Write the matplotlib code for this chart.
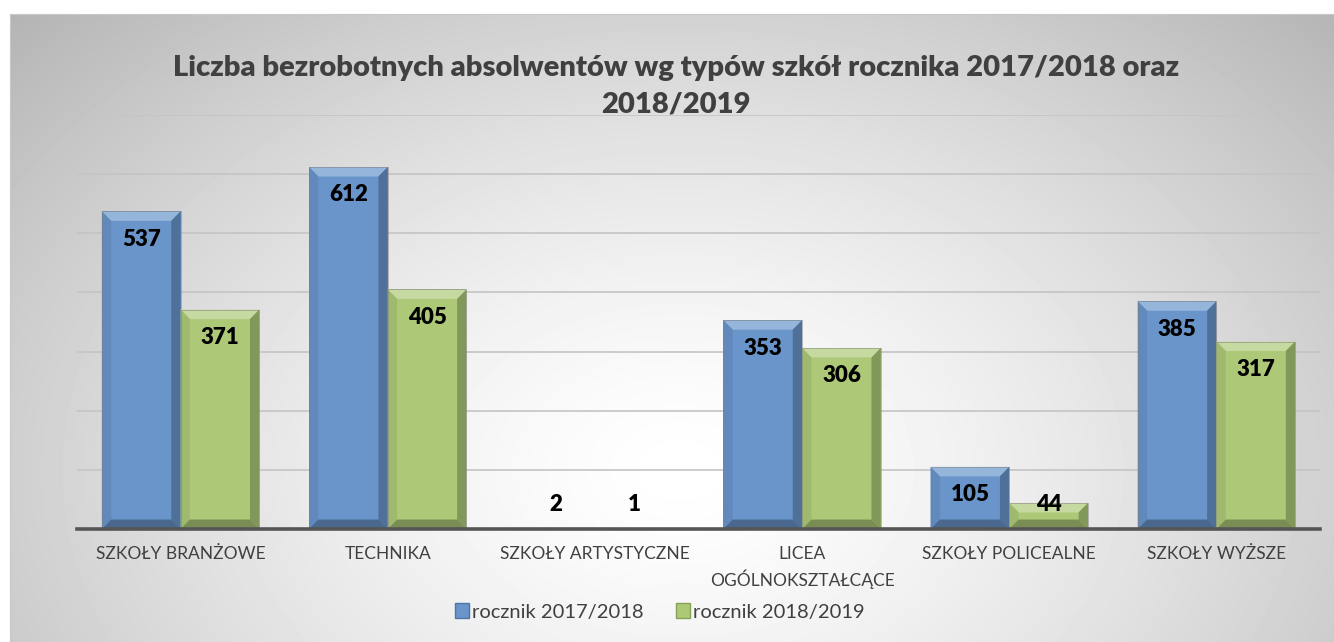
import numpy as np
import matplotlib
matplotlib.use("Agg")
import matplotlib.pyplot as plt
from matplotlib.patches import Polygon, Rectangle
import matplotlib.colors as mcolors

plt.rcParams["font.family"] = ["Lato", "DejaVu Sans"]

# --- data ---
categories = ["SZKOŁY BRANŻOWE", "TECHNIKA", "SZKOŁY ARTYSTYCZNE",
              "LICEA\nOGÓLNOKSZTAŁCĄCE", "SZKOŁY POLICEALNE", "SZKOŁY WYŻSZE"]
rocznik_2017 = [537, 612, 2, 353, 105, 385]
rocznik_2018 = [371, 405, 1, 306, 44, 317]
series_names = ["rocznik 2017/2018", "rocznik 2018/2019"]
title = "Liczba bezrobotnych absolwentów wg typów szkół rocznika 2017/2018 oraz\n2018/2019"

BLUE = "#6995cb"
GREEN = "#adc978"
TXT = "#404040"

W, H = 1334, 642
fig = plt.figure(figsize=(W / 100, H / 100), dpi=100)
fig.patch.set_facecolor("white")

# gradient background of the chart area
bg = fig.add_axes([10 / W, 0, 1 - 10 / W, (H - 14) / H])
yy, xx = np.mgrid[14:H, 10:W]
u = (xx - 680) / 700.0
v = (yy - 470) / 500.0
r = np.sqrt(u ** 2 + v ** 2)
shade = 1 - 0.2 * np.clip(r, 0, 1.35) ** 1.4
bg.imshow(shade, cmap="gray", vmin=0, vmax=1, aspect="auto",
          extent=[0, 1, 0, 1], origin="upper", interpolation="bilinear")
bg.set_xticks([])
bg.set_yticks([])
for side in ["left", "top"]:
    bg.spines[side].set_color("#c8c8c8")
for side in ["right", "bottom"]:
    bg.spines[side].set_visible(False)

ax = fig.add_axes([77 / W, (H - 529) / H, (1320 - 77) / W, (529 - 115) / H])
ax.patch.set_alpha(0)
ax.set_xlim(-0.5, len(categories) - 0.5)
ax.set_ylim(0, 700)
ax.set_yticks(np.arange(100, 701, 100))
ax.yaxis.grid(True, color="#c4c4c4", linewidth=1.2)
ax.set_axisbelow(True)
ax.tick_params(axis="y", length=0, labelleft=False)
ax.tick_params(axis="x", length=0, pad=12, labelsize=12.5, labelcolor=TXT)
for side in ["left", "right", "top"]:
    ax.spines[side].set_visible(False)
ax.spines["bottom"].set_color("#555555")
ax.spines["bottom"].set_linewidth(2.6)
ax.spines["bottom"].set_zorder(5)
ax.set_xticks(range(len(categories)))
ax.set_xticklabels(categories, linespacing=1.45)


def shade_color(c, f):
    rgb = np.array(mcolors.to_rgb(c))
    if f > 1:
        return tuple(rgb + (1 - rgb) * (f - 1))
    return tuple(rgb * f)


def bevel_bar(x0, w, h, color):
    dx = 0.045
    dy = min(16.0, h / 2)
    x1 = x0 + w
    ax.add_patch(Rectangle((x0, 0), w, h, facecolor=color, edgecolor="none", zorder=3))
    # top bevel
    ax.add_patch(Polygon([(x0, h), (x1, h), (x1 - dx, h - dy), (x0 + dx, h - dy)],
                         facecolor=shade_color(color, 1.3), edgecolor="none", zorder=3))
    # right side
    ax.add_patch(Polygon([(x1, h), (x1, 0), (x1 - dx, dy), (x1 - dx, h - dy)],
                         facecolor=shade_color(color, 0.75), edgecolor="none", zorder=3))
    # left side
    ax.add_patch(Polygon([(x0, h), (x0, 0), (x0 + dx, dy), (x0 + dx, h - dy)],
                         facecolor=shade_color(color, 0.92), edgecolor="none", zorder=3))
    # bottom bevel
    ax.add_patch(Polygon([(x0, 0), (x1, 0), (x1 - dx, dy), (x0 + dx, dy)],
                         facecolor=shade_color(color, 0.7), edgecolor="none", zorder=3))
    ax.add_patch(Rectangle((x0, 0), w, h, facecolor="none", edgecolor="#7f7f7f",
                           linewidth=0.6, alpha=0.6, zorder=3))


bw = 0.38
for i, (a, b) in enumerate(zip(rocznik_2017, rocznik_2018)):
    for val, off, col in [(a, -bw, BLUE), (b, 0, GREEN)]:
        bevel_bar(i + off, bw, val, col)
        ax.text(i + off + bw / 2, max(val - 47, 42), str(val), ha="center", va="center",
                fontsize=16, fontweight="heavy", color="black", zorder=6)

fig.text(676 / W, 1 - 86 / H, title, ha="center", va="center", fontsize=21,
         fontweight="heavy", color=TXT, linespacing=1.5)

handles = [Rectangle((0, 0), 1, 1, facecolor=BLUE, edgecolor="#4f76a6"),
           Rectangle((0, 0), 1, 1, facecolor=GREEN, edgecolor="#86a258")]
fig.legend(handles, series_names, loc="center", bbox_to_anchor=(660 / W, 1 - 612 / H),
           ncol=2, frameon=False, fontsize=14.5, handlelength=0.7, handleheight=0.7,
           handletextpad=0.15, columnspacing=1.6, labelcolor=TXT)

fig.savefig("out.png", dpi=100)
